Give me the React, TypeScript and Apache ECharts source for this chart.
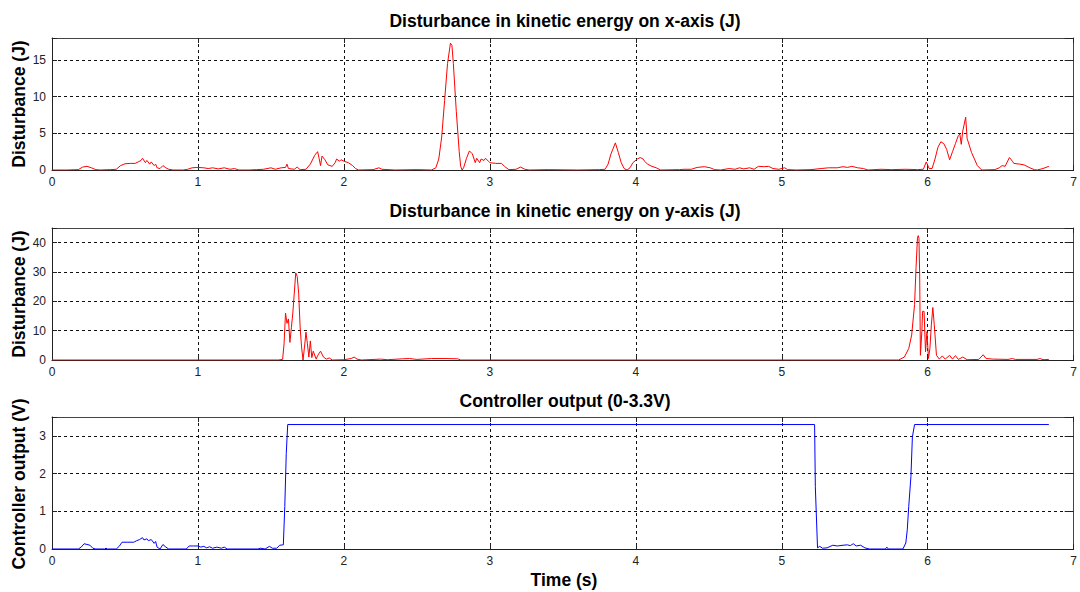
import React, { useEffect, useRef } from "react";
import * as echarts from "echarts";

// ---- Data (time in s, value) ----
const xDisturbance: [number, number][] = [
  [0, 0], [0.1, 0], [0.18, 0.05], [0.21, 0.4], [0.24, 0.5], [0.27, 0.3], [0.3, 0.05], [0.33, 0],
  [0.4, 0.05], [0.44, 0.1], [0.47, 0.6], [0.5, 0.85], [0.54, 0.9], [0.57, 0.9], [0.59, 1.1],
  [0.61, 1.3], [0.62, 1.6], [0.64, 1.0], [0.65, 1.3], [0.67, 0.8], [0.68, 1.1], [0.7, 0.6],
  [0.71, 0.8], [0.72, 0.3], [0.74, 0.2], [0.76, 0.6], [0.78, 0.3], [0.8, 0.1], [0.83, 0],
  [0.9, 0], [0.93, 0.1], [0.96, 0.3], [1.0, 0.35], [1.04, 0.3], [1.07, 0.2], [1.1, 0.3],
  [1.14, 0.15], [1.18, 0.3], [1.22, 0.1], [1.25, 0.2], [1.28, 0], [1.35, 0], [1.4, 0.05],
  [1.45, 0.1], [1.5, 0.3], [1.53, 0.1], [1.57, 0.3], [1.6, 0.35], [1.61, 0.8], [1.62, 0.2],
  [1.66, 0.1], [1.68, 0.4], [1.7, 0.05], [1.74, 0.1], [1.77, 0.8], [1.8, 2.0], [1.82, 2.5],
  [1.83, 1.6], [1.84, 0.6], [1.85, 1.9], [1.87, 1.4], [1.89, 0.7], [1.92, 0.5], [1.94, 1.0],
  [1.95, 1.5], [1.97, 1.2], [1.98, 1.4], [2.0, 1.2], [2.03, 1.0], [2.06, 0.6], [2.08, 0.2],
  [2.1, 0], [2.2, 0.05], [2.24, 0.3], [2.26, 0.1], [2.35, 0], [2.5, 0.05], [2.6, 0],
  [2.63, 0.3], [2.65, 1.5], [2.67, 4.5], [2.69, 9.5], [2.71, 14.5], [2.73, 17.3], [2.74, 17.0],
  [2.75, 14.5], [2.77, 8.0], [2.79, 2.5], [2.8, 0.5], [2.81, 0], [2.82, 0.3], [2.84, 1.6],
  [2.86, 2.6], [2.88, 2.2], [2.9, 1.0], [2.91, 1.6], [2.93, 1.0], [2.94, 1.5], [2.96, 1.3],
  [2.97, 1.6], [2.99, 1.2], [3.0, 1.0], [3.04, 0.9], [3.08, 0.9], [3.1, 0.5], [3.13, 0.05],
  [3.18, 0.1], [3.21, 0.4], [3.24, 0.1], [3.27, 0], [3.4, 0.05], [3.6, 0], [3.75, 0.05],
  [3.79, 0.1], [3.81, 0.8], [3.83, 2.2], [3.86, 3.7], [3.88, 2.4], [3.9, 1.0], [3.92, 0.2],
  [3.94, 0], [3.96, 0.3], [3.98, 1.0], [4.01, 1.5], [4.03, 1.7], [4.05, 1.5], [4.06, 1.2],
  [4.08, 0.8], [4.11, 0.5], [4.14, 0.3], [4.17, 0], [4.3, 0.05], [4.33, 0.1], [4.38, 0.1],
  [4.42, 0.35], [4.47, 0.45], [4.51, 0.3], [4.54, 0.05], [4.58, 0], [4.64, 0.2], [4.68, 0.1],
  [4.71, 0.3], [4.74, 0.15], [4.78, 0.3], [4.81, 0.1], [4.84, 0.5], [4.88, 0.45], [4.91, 0.5],
  [4.94, 0.2], [4.98, 0.1], [5.02, 0.3], [5.04, 0.05], [5.1, 0], [5.2, 0.05], [5.27, 0.2],
  [5.32, 0.3], [5.38, 0.3], [5.42, 0.45], [5.45, 0.35], [5.48, 0.5], [5.52, 0.3], [5.56, 0.2],
  [5.59, 0], [5.68, 0.1], [5.75, 0.05], [5.85, 0.1], [5.93, 0.05], [5.97, 0.1], [5.99, 1.1],
  [6.01, 0.2], [6.03, 0.2], [6.05, 1.5], [6.07, 3.1], [6.09, 3.85], [6.11, 3.6], [6.13, 2.8],
  [6.15, 1.4], [6.17, 2.5], [6.19, 3.6], [6.21, 4.7], [6.22, 4.9], [6.23, 3.5], [6.24, 5.3],
  [6.26, 7.2], [6.27, 4.3], [6.3, 2.4], [6.34, 0.6], [6.37, 0], [6.46, 0.05], [6.49, 0.3],
  [6.51, 0.6], [6.53, 0.5], [6.56, 1.7], [6.58, 1.2], [6.59, 0.9], [6.63, 0.8], [6.66, 0.7],
  [6.7, 0.3], [6.73, 0.05], [6.75, 0], [6.79, 0.2], [6.83, 0.5],
];

const yDisturbance: [number, number][] = [
  [0, 0], [1.55, 0], [1.58, 0.2], [1.59, 5.5], [1.6, 16.0], [1.61, 12.5], [1.62, 14.0],
  [1.63, 6.0], [1.64, 11.0], [1.65, 16.0], [1.66, 22.8], [1.67, 29.7], [1.68, 28.5],
  [1.69, 22.8], [1.7, 11.3], [1.71, 4.4], [1.72, 0], [1.73, 4.4], [1.74, 9.5], [1.75, 5.5],
  [1.76, 1.0], [1.77, 6.5], [1.78, 0.8], [1.79, 3.0], [1.81, 0.3], [1.82, 1.5], [1.84, 3.0],
  [1.86, 1.0], [1.88, 0.3], [1.9, 0.7], [1.92, 0], [2.0, 0.1], [2.05, 0.5], [2.07, 1.0],
  [2.09, 0.3], [2.12, 0], [2.25, 0.3], [2.3, 0.1], [2.4, 0.4], [2.45, 0.5], [2.5, 0.2],
  [2.6, 0.5], [2.7, 0.5], [2.78, 0.4], [2.8, 0], [5.8, 0], [5.84, 1.0], [5.87, 3.9],
  [5.89, 8.5], [5.91, 18.9], [5.92, 31.5], [5.93, 41.8], [5.935, 42.4], [5.94, 41.5],
  [5.945, 29], [5.95, 1.6], [5.96, 9.7], [5.965, 16.6], [5.975, 16.6], [5.985, 2.8],
  [5.995, 9.7], [6.005, 0.5], [6.015, 3.9], [6.025, 12], [6.035, 17.9], [6.045, 12],
  [6.06, 1.6], [6.08, 0.3], [6.1, 1.4], [6.12, 0.3], [6.15, 1.6], [6.17, 0.3], [6.19, 1.5],
  [6.21, 0.2], [6.24, 1.0], [6.27, 0.1], [6.35, 0.2], [6.38, 1.8], [6.4, 0.5], [6.45, 0.3],
  [6.55, 0.2], [6.58, 0.5], [6.6, 0.2], [6.75, 0.2], [6.77, 0.5], [6.79, 0.1], [6.83, 0.2],
];

const controllerOutput: [number, number][] = [
  [0, 0], [0.18, 0], [0.2, 0.05], [0.22, 0.14], [0.24, 0.12], [0.26, 0.1], [0.28, 0.02],
  [0.3, 0], [0.36, 0], [0.37, 0.02], [0.38, 0], [0.44, 0], [0.46, 0.07], [0.48, 0.18],
  [0.52, 0.18], [0.56, 0.18], [0.58, 0.22], [0.6, 0.25], [0.62, 0.3], [0.63, 0.24],
  [0.65, 0.27], [0.66, 0.22], [0.68, 0.25], [0.7, 0.15], [0.71, 0.2], [0.72, 0.05], [0.74, 0],
  [0.76, 0.12], [0.78, 0.05], [0.8, 0], [0.92, 0], [0.94, 0.08], [0.97, 0.08], [1.0, 0.08],
  [1.02, 0.05], [1.04, 0.07], [1.06, 0.03], [1.08, 0.06], [1.1, 0.02], [1.13, 0.05],
  [1.16, 0.02], [1.18, 0.05], [1.2, 0], [1.41, 0], [1.43, 0.02], [1.46, 0], [1.49, 0.07],
  [1.51, 0.02], [1.54, 0.02], [1.56, 0.1], [1.585, 0.11], [1.595, 1.13], [1.605, 2.53],
  [1.615, 3.3], [5.225, 3.3], [5.23, 1.65], [5.245, 0.03], [5.26, 0.07], [5.28, 0.02],
  [5.31, 0.03], [5.35, 0.1], [5.38, 0.08], [5.42, 0.1], [5.45, 0.11], [5.47, 0.09],
  [5.49, 0.14], [5.51, 0.08], [5.54, 0.1], [5.57, 0.03], [5.6, 0], [5.71, 0], [5.72, 0.05],
  [5.73, 0], [5.83, 0], [5.85, 0.16], [5.86, 0.51], [5.87, 1.13], [5.885, 1.92],
  [5.895, 2.97], [5.91, 3.3], [6.83, 3.3],
];

const panelTitles = [
  "Disturbance in kinetic energy on x-axis (J)",
  "Disturbance in kinetic energy on y-axis (J)",
  "Controller output (0-3.3V)",
];
const yLabels = ["Disturbance (J)", "Disturbance (J)", "Controller output (V)"];
const xLabel = "Time (s)";
const yMax = [18, 45, 3.5];
const yInterval = [5, 10, 1];
const xMin = 0;
const xMax = 7;
const xInterval = 1;

const seriesData = [xDisturbance, yDisturbance, controllerOutput];
const seriesColors = ["#ff0000", "#ff0000", "#0000ff"];

// ---- layout ----
const PLOT_LEFT = 52;
const PLOT_WIDTH = 1026;
const PLOT_HEIGHT = 132;
const PLOT_TOPS = [38, 228, 417];
const TITLE_Y = [20.7, 210.7, 400.7];
const YLABEL_Y = [104, 294, 484];
const TICK_FONT = '"Liberation Sans Narrow", "Liberation Sans", Arial, sans-serif';
const LABEL_FONT = '"Liberation Sans", Arial, sans-serif';

export default function App() {
  const ref = useRef<HTMLDivElement>(null);

  useEffect(() => {
    if (!ref.current) return;
    const chart = echarts.init(ref.current, undefined, { renderer: "svg" });

    const grids: any[] = [];
    const xAxes: any[] = [];
    const yAxes: any[] = [];
    const series: any[] = [];
    const graphics: any[] = [];

    for (let i = 0; i < 3; i++) {
      grids.push({
        left: PLOT_LEFT,
        top: PLOT_TOPS[i],
        width: PLOT_WIDTH,
        height: PLOT_HEIGHT,
        show: false,
      });
      const step = yInterval[i];
      // bottom x axis
      xAxes.push({
        gridIndex: i,
        type: "value",
        position: "bottom",
        min: xMin,
        max: xMax,
        interval: xInterval,
        axisLine: { show: true, onZero: false, lineStyle: { color: "#222", width: 1 } },
        axisTick: { show: true, inside: true, length: 5, lineStyle: { color: "#222" } },
        axisLabel: { show: true, fontSize: 12, margin: 6, color: "#222", fontFamily: TICK_FONT },
        splitLine: {
          show: true,
          showMinLine: false,
          showMaxLine: false,
          lineStyle: { color: "#111", width: 1, type: [3, 3] },
        },
      });
      // top x axis (box)
      xAxes.push({
        gridIndex: i,
        type: "value",
        position: "top",
        min: xMin,
        max: xMax,
        interval: xInterval,
        axisLine: { show: true, onZero: false, lineStyle: { color: "#444", width: 1 } },
        axisTick: { show: true, inside: true, length: 5, lineStyle: { color: "#222" } },
        axisLabel: { show: false },
        splitLine: { show: false },
      });
      // left y axis
      yAxes.push({
        gridIndex: i,
        type: "value",
        position: "left",
        min: 0,
        max: yMax[i],
        interval: step,
        axisLine: { show: true, onZero: false, lineStyle: { color: "#222", width: 1 } },
        axisTick: { show: true, inside: true, length: 5, lineStyle: { color: "#222" } },
        axisLabel: {
          show: true,
          fontSize: 12,
          margin: 6,
          color: "#222",
          fontFamily: TICK_FONT,
          formatter: (v: number) => (Math.abs(v / step - Math.round(v / step)) < 1e-9 ? String(v) : ""),
        },
        splitLine: {
          show: true,
          showMinLine: false,
          showMaxLine: false,
          lineStyle: { color: "#111", width: 1, type: [3, 3] },
        },
      });
      // right y axis (box)
      yAxes.push({
        gridIndex: i,
        type: "value",
        position: "right",
        min: 0,
        max: yMax[i],
        interval: step,
        axisLine: { show: true, onZero: false, lineStyle: { color: "#444", width: 1 } },
        axisTick: { show: true, inside: true, length: 9, lineStyle: { color: "#222" } },
        axisLabel: { show: false },
        splitLine: { show: false },
      });

      series.push({
        type: "line",
        xAxisIndex: 2 * i,
        yAxisIndex: 2 * i,
        data: seriesData[i],
        showSymbol: false,
        symbol: "none",
        smooth: false,
        lineStyle: { color: seriesColors[i], width: 1 },
        z: 5,
      });

      graphics.push({
        type: "text",
        x: 565,
        y: TITLE_Y[i],
        style: {
          text: panelTitles[i],
          fontSize: 17.5,
          fontWeight: "bold",
          fontFamily: LABEL_FONT,
          fill: "#000",
          textAlign: "center",
          textVerticalAlign: "middle",
          align: "center",
          verticalAlign: "middle",
        },
      });
      graphics.push({
        type: "text",
        x: 19,
        y: YLABEL_Y[i],
        rotation: Math.PI / 2,
        style: {
          text: yLabels[i],
          fontSize: 17.5,
          fontWeight: "bold",
          fontFamily: LABEL_FONT,
          fill: "#000",
          textAlign: "center",
          textVerticalAlign: "middle",
          align: "center",
          verticalAlign: "middle",
        },
      });
    }

    graphics.push({
      type: "text",
      x: 564,
      y: 580,
      style: {
        text: xLabel,
        fontSize: 17.5,
        fontWeight: "bold",
        fontFamily: LABEL_FONT,
        fill: "#000",
        textAlign: "center",
        textVerticalAlign: "middle",
        align: "center",
        verticalAlign: "middle",
      },
    });

    chart.setOption({
      animation: false,
      backgroundColor: "#ffffff",
      grid: grids,
      xAxis: xAxes,
      yAxis: yAxes,
      series,
      graphic: graphics,
    });

    return () => {
      chart.dispose();
    };
  }, []);

  return (
    <div
      ref={ref}
      style={{ position: "fixed", left: 0, top: 0, width: 1080, height: 592, background: "#fff" }}
    />
  );
}
